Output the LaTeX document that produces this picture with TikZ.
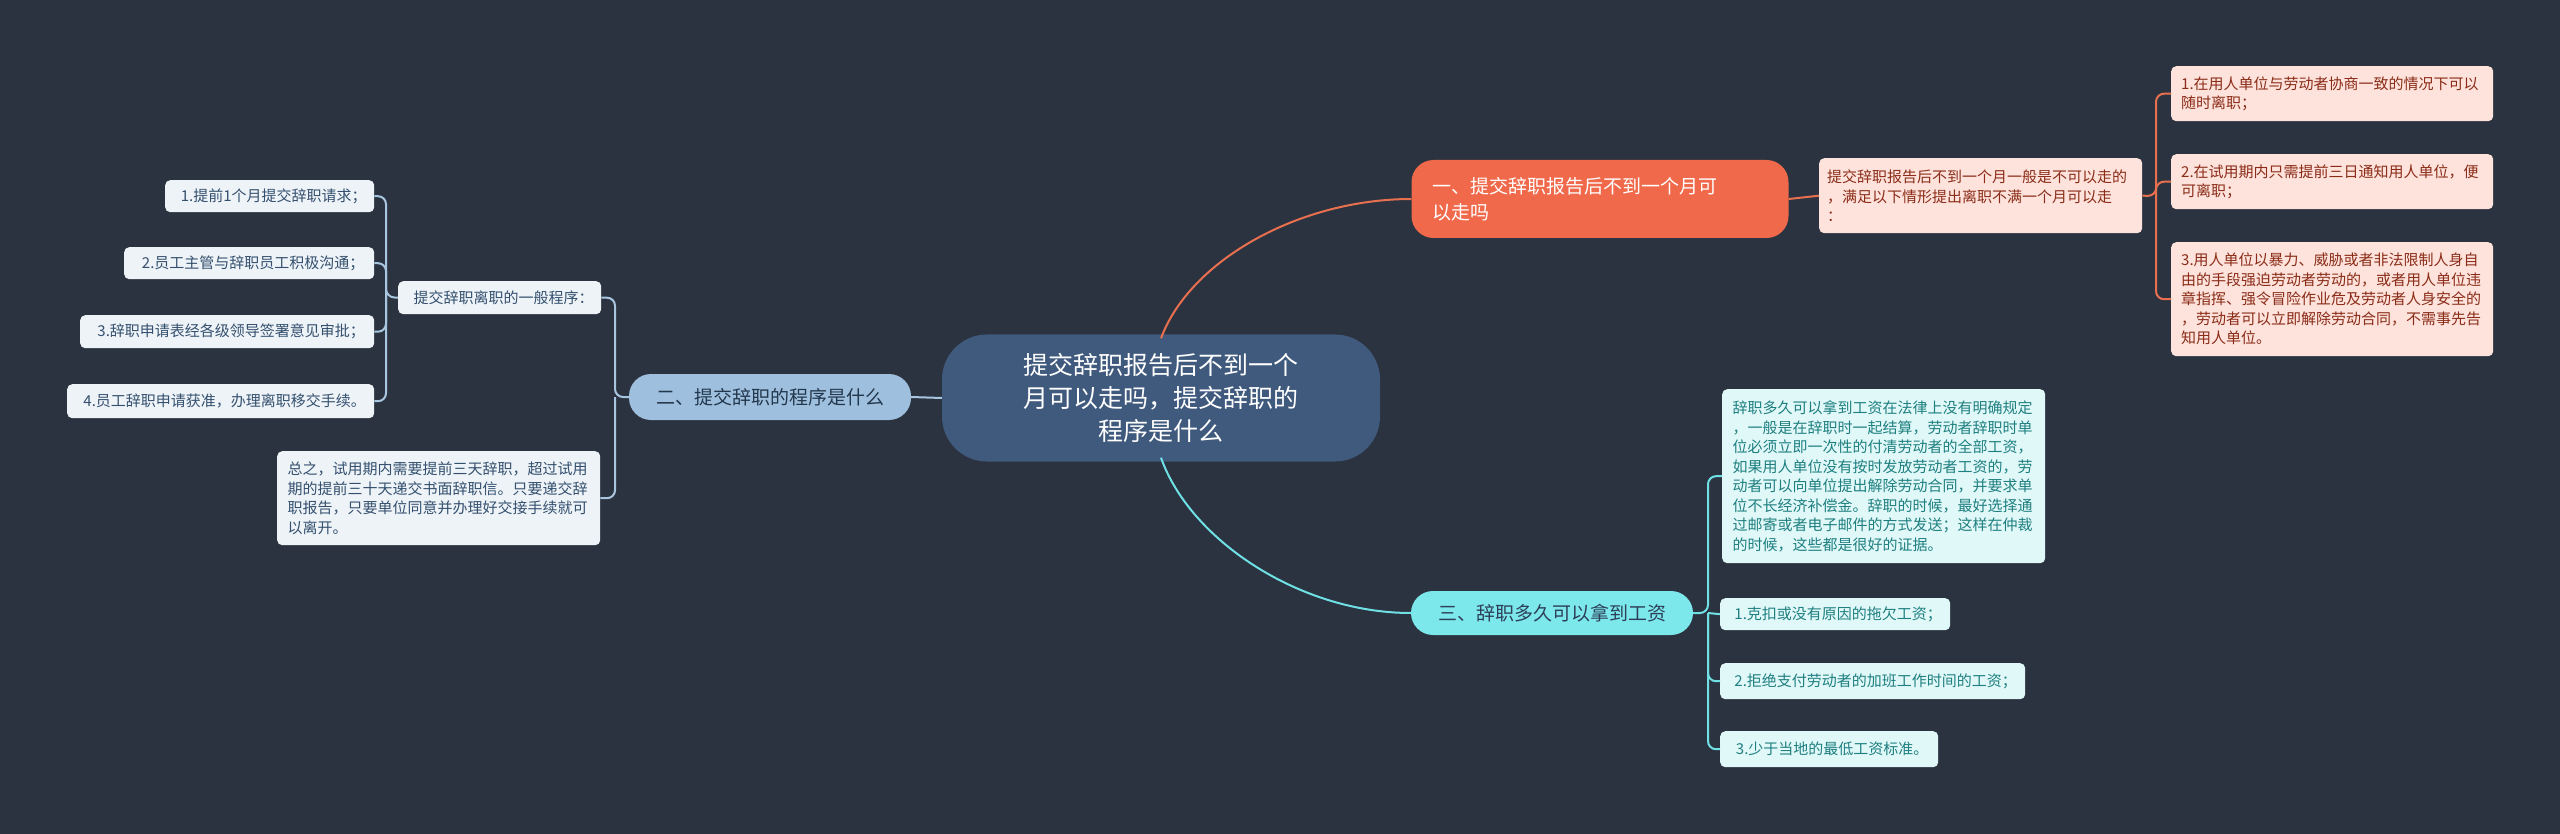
\documentclass[tikz,border=0pt]{standalone}
\usepackage{fontspec}
\setmainfont{Noto Sans CJK SC}
\begin{document}
\begin{tikzpicture}[x=1pt,y=-1pt,
  box/.style={rounded corners=5pt,inner sep=0pt,anchor=north west,align=left,font=\fontsize{15}{19.5}\selectfont},
  pill/.style={rounded corners=22pt,inner sep=0pt,align=center},
  oline/.style={draw=orgl,line width=2pt,rounded corners=8pt},
  cline/.style={draw=cyl,line width=2pt,rounded corners=8pt},
  bline/.style={draw=bll,line width=2pt,rounded corners=8pt}]
\definecolor{bg}{HTML}{2B3340}
\definecolor{rootc}{HTML}{405A7E}
\definecolor{orgc}{HTML}{F0694A}
\definecolor{orgl}{HTML}{E8704F}
\definecolor{orgf}{HTML}{FDE3DC}
\definecolor{orgt}{HTML}{8B2C18}
\definecolor{blc}{HTML}{9EC0DE}
\definecolor{bll}{HTML}{A9C6E0}
\definecolor{blf}{HTML}{EEF3F8}
\definecolor{blt}{HTML}{34506E}
\definecolor{cyc}{HTML}{7CE8EC}
\definecolor{cyl}{HTML}{6FE0E4}
\definecolor{cyf}{HTML}{E0F8F8}
\definecolor{cyt}{HTML}{1F7F80}
\fill[bg] (0,0) rectangle (2560,834);
\useasboundingbox (0,0) rectangle (2560,834);
% root
\node[pill,rounded corners=45pt,fill=rootc,text=white,minimum width=438pt,minimum height=127pt,font=\fontsize{25}{33}\selectfont] (root) at (1161,398) {提交辞职报告后不到一个\\月可以走吗，提交辞职的\\程序是什么};
% branch 1
\node[pill,fill=orgc,text=white,minimum width=377pt,minimum height=78pt,text width=335pt,align=left,font=\fontsize{19}{26}\selectfont] (b1) at (1600,199) {一、提交辞职报告后不到一个月可\\以走吗};
\node[box,fill=orgf,text=orgt,minimum width=323pt,minimum height=75pt,text width=315pt] (o0) at (1819,158) {\hspace*{4pt}\parbox{315pt}{提交辞职报告后不到一个月一般是不可以走的\\，满足以下情形提出离职不满一个月可以走\\：}};
\node[box,fill=orgf,text=orgt,minimum width=322pt,minimum height=55pt] (o1) at (2171,66) {\hspace*{8pt}\parbox{310pt}{1.在用人单位与劳动者协商一致的情况下可以\\随时离职；}};
\node[box,fill=orgf,text=orgt,minimum width=322pt,minimum height=55pt] (o2) at (2171,154) {\hspace*{8pt}\parbox{310pt}{2.在试用期内只需提前三日通知用人单位，便\\可离职；}};
\node[box,fill=orgf,text=orgt,minimum width=322pt,minimum height=114pt] (o3) at (2171,242) {\hspace*{8pt}\parbox{310pt}{3.用人单位以暴力、威胁或者非法限制人身自\\由的手段强迫劳动者劳动的，或者用人单位违\\章指挥、强令冒险作业危及劳动者人身安全的\\，劳动者可以立即解除劳动合同，不需事先告\\知用人单位。}};
% branch 2
\node[pill,fill=blc,text=blt!70!black,minimum width=282pt,minimum height=46pt,font=\fontsize{19}{24}\selectfont] (b2) at (770,397) {二、提交辞职的程序是什么};
\node[box,fill=blf,text=blt,minimum width=203pt,minimum height=33pt] (l0) at (398,281) {\hspace*{8pt}\raisebox{-9pt}{提交辞职离职的一般程序：}};
\node[box,fill=blf,text=blt,minimum width=209pt,minimum height=32pt] (l1) at (165,180) {\hspace*{8pt}\raisebox{-9pt}{1.提前1个月提交辞职请求；}};
\node[box,fill=blf,text=blt,minimum width=250pt,minimum height=32pt] (l2) at (124,247) {\hspace*{8pt}\raisebox{-9pt}{2.员工主管与辞职员工积极沟通；}};
\node[box,fill=blf,text=blt,minimum width=294pt,minimum height=33pt] (l3) at (80,315) {\hspace*{8pt}\raisebox{-9pt}{3.辞职申请表经各级领导签署意见审批；}};
\node[box,fill=blf,text=blt,minimum width=307pt,minimum height=34pt] (l4) at (67,384) {\hspace*{8pt}\raisebox{-9pt}{4.员工辞职申请获准，办理离职移交手续。}};
\node[box,fill=blf,text=blt,minimum width=323pt,minimum height=94pt] (l5) at (277,451) {\hspace*{8pt}\parbox{310pt}{总之，试用期内需要提前三天辞职，超过试用\\期的提前三十天递交书面辞职信。只要递交辞\\职报告，只要单位同意并办理好交接手续就可\\以离开。}};
% branch 3
\node[pill,fill=cyc,text=rootc!70!black,minimum width=282pt,minimum height=44pt,font=\fontsize{19}{24}\selectfont] (b3) at (1552,613) {三、辞职多久可以拿到工资};
\node[box,fill=cyf,text=cyt,minimum width=323pt,minimum height=174pt] (c0) at (1722,389) {\hspace*{8pt}\parbox{310pt}{辞职多久可以拿到工资在法律上没有明确规定\\，一般是在辞职时一起结算，劳动者辞职时单\\位必须立即一次性的付清劳动者的全部工资，\\如果用人单位没有按时发放劳动者工资的，劳\\动者可以向单位提出解除劳动合同，并要求单\\位不长经济补偿金。辞职的时候，最好选择通\\过邮寄或者电子邮件的方式发送；这样在仲裁\\的时候，这些都是很好的证据。}};
\node[box,fill=cyf,text=cyt,minimum width=230pt,minimum height=32pt] (c1) at (1720,598) {\hspace*{6pt}\raisebox{-9pt}{1.克扣或没有原因的拖欠工资；}};
\node[box,fill=cyf,text=cyt,minimum width=305pt,minimum height=36pt] (c2) at (1720,663) {\hspace*{6pt}\raisebox{-10pt}{2.拒绝支付劳动者的加班工作时间的工资；}};
\node[box,fill=cyf,text=cyt,minimum width=218pt,minimum height=36pt] (c3) at (1720,731) {\hspace*{6pt}\raisebox{-10pt}{3.少于当地的最低工资标准。}};
% connectors
\draw[orgl,line width=2pt] (root.north) ++(0,4) .. controls (1190,260) and (1300,199) .. (b1.west);
\draw[cyl,line width=2pt] (root.south) ++(0,-4) .. controls (1190,540) and (1300,613) .. (b3.west);
\draw[bll,line width=2pt] (root.west) -- (b2.east);
\draw[orgl,line width=2pt] (b1.east) -- (o0.west);
\coordinate (ob) at (2156,196);
\draw[oline] (o0.east) -- (ob) |- (o1.west);
\draw[oline] (ob) -- (o2.west -| ob) -- (o2.west);
\draw[oline] (ob) |- (o3.west);
\coordinate (lb) at (615,397);
\draw[bline] (b2.west) -- (lb) |- (l0.east);
\draw[bline] (lb) |- (l5.east);
\coordinate (lb2) at (386,297);
\draw[bline] (l0.west) -- (lb2) |- (l1.east);
\draw[bline] (lb2) |- (l2.east);
\draw[bline] (lb2) |- (l3.east);
\draw[bline] (lb2) |- (l4.east);
\coordinate (cb) at (1708,613);
\draw[cline] (b3.east) -- (cb) |- (c0.west);
\draw[cline] (cb) -- (c1.west);
\draw[cline] (cb) |- (c2.west);
\draw[cline] (cb) |- (c3.west);
\end{tikzpicture}
\end{document}
